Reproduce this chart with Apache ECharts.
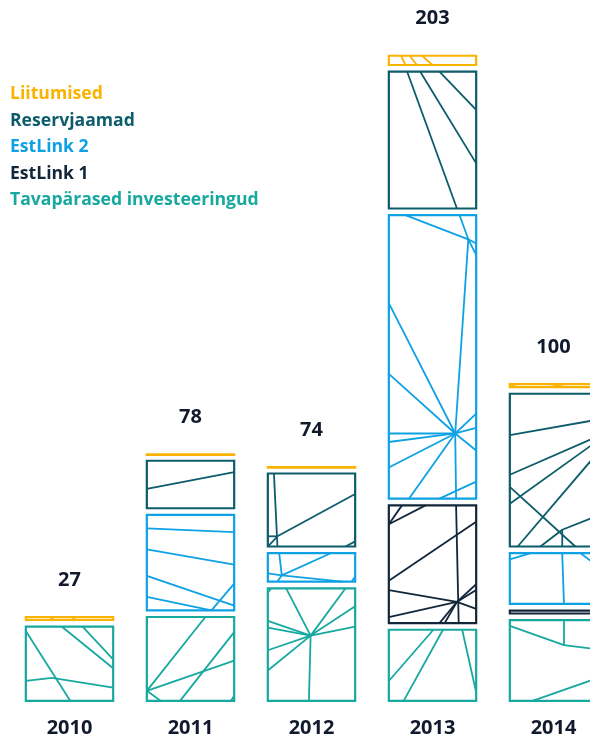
<!DOCTYPE html>
<html>
<head>
<meta charset="utf-8">
<script src="https://cdn.jsdelivr.net/npm/echarts@6/dist/echarts.min.js"></script>
<style>
  html, body { margin: 0; padding: 0; background: #ffffff; }
  #chart { width: 590px; height: 739px; }
</style>
</head>
<body>
<div id="chart"></div>
<script>
// Investments by year, stacked bottom to top
const years = ['2010', '2011', '2012', '2013', '2014'];
const tavaparased = [24, 27, 36, 23, 26];
const estlink1 = [0, 0, 0, 39, 3];
const estlink2 = [0, 32, 11, 91, 18];
const reservjaamad = [0, 17, 25, 45, 50];
const liitumised = [3, 2, 2, 5, 3];

const layers = [
  { name: 'Tavapärased investeeringud', data: tavaparased, color: '#17a99f' },
  { name: 'EstLink 1', data: estlink1, color: '#13273a' },
  { name: 'EstLink 2', data: estlink2, color: '#0ea1e4' },
  { name: 'Reservjaamad', data: reservjaamad, color: '#0c5c6b' },
  { name: 'Liitumised', data: liitumised, color: '#fab300' }
];

const totals = years.map((_, i) => layers.reduce((s, l) => s + l.data[i], 0));

const FONT = '"Open Sans", sans-serif';
const TEXT_DARK = '#111a2c';

// Decorative facet lines inside each box, as fractions of the box (x right, y down)
function fan(hx, hy, pts) {
  return pts.map(p => [hx, hy, p[0], p[1]]);
}
const decor = [
  // Tavapärased investeeringud
  [
    [[0, 0.06, 0.51, 1], [0, 0.73, 0.3, 0.69], [0.3, 0.69, 1, 0.82], [0.41, 0, 1, 0.56], [0.65, 0, 1, 0.44]],
    [[0, 0.88, 1, 0.52], [0, 0.88, 0.67, 0], [0.38, 1, 1, 0.18], [0, 0.88, 0.16, 1], [0.96, 1, 1, 0.94]],
    fan(0.49, 0.42, [[0, 0.29], [0, 0.35], [0, 0.55], [0, 0.73], [0.21, 0], [0.89, 0], [1, 0.16], [1, 0.34], [0.47, 1]])
      .concat([[0, 0.04, 0.04, 0]]),
    [[0, 0.72, 0.51, 0], [0.17, 1, 0.62, 0], [0.84, 0, 1, 0.88]],
    [[0, 0.07, 0.62, 0.31], [0.62, 0, 0.62, 0.31], [0.62, 0.31, 1, 0.36], [0.26, 1, 1, 0.72]]
  ],
  // EstLink 1
  [
    [], [], [],
    [[0, 0.16, 0.42, 0], [0, 0.16, 0.15, 0], [0, 0.64, 1, 0.14], [0.77, 0, 0.8, 1]]
      .concat(fan(0.78, 0.82, [[0, 0.72], [0, 0.95], [1, 0.67], [1, 0.72], [1, 0.88], [0.58, 1], [0.64, 1]])),
    []
  ],
  // EstLink 2
  [
    [],
    [[0, 0.14, 1, 0.18], [0, 0.36, 1, 0.52], [0, 0.64, 1, 0.95], [0, 0.86, 0.74, 1], [0.74, 1, 1, 0.72]],
    [[0.13, 0, 0.16, 0.78], [0, 0.71, 0.16, 0.78], [0.16, 0.78, 0.72, 0], [0.16, 0.78, 0.85, 1], [0.11, 1, 0.16, 0.78], [0.96, 1, 1, 0.82]],
    fan(0.91, 0.085, [[0.19, 0], [0.81, 0], [1, 0.1], [1, 0.14], [0.76, 0.77]])
      .concat(fan(0.76, 0.77, [[0, 0.31], [0, 0.56], [0, 0.77], [0, 0.8], [0, 0.89], [0.23, 1], [1, 0.7], [1, 0.75], [1, 0.83], [0.77, 1]]))
      .concat([[0.58, 1, 1, 0.94]]),
    [[0, 0.12, 0.24, 0], [0.6, 0, 0.62, 1], [0.81, 0, 1, 0.25]]
  ],
  // Reservjaamad
  [
    [],
    [[0, 0.59, 1, 0.24]],
    [[0.07, 0, 0.11, 1], [0, 0.86, 0.11, 0.86], [0, 1, 0.11, 0.86], [0.11, 0.86, 1, 0.28], [0.89, 1, 1, 0.93]],
    [[0.21, 0, 0.78, 1], [0.36, 0, 1, 0.67], [0.58, 0, 1, 0.28]],
    [[0, 0.27, 1, 0.17], [0, 0.53, 1, 0.28], [0, 0.72, 1, 0.31], [0, 0.61, 0.75, 1], [0.09, 1, 1, 0.39],
     [0.35, 1, 0.6, 0.89], [0.6, 0.89, 1, 0.8], [0.6, 0.89, 0.6, 1]]
  ],
  // Liitumised
  [
    [[0.27, 0, 0.32, 1], [0.52, 0, 0.57, 1]],
    [], [],
    [[0.14, 0, 0.19, 1], [0.24, 0, 0.32, 1], [0.38, 0, 0.5, 1]],
    [[0, 0.9, 0.07, 0.1], [0.46, 0, 0.65, 1]]
  ]
];

const GAP = 4.5;        // white space between stacked boxes
const BAR_RATIO = 0.74; // box width relative to category band
const EDGE = 2.2;       // box outline width

function layerRenderer(li) {
  const color = layers[li].color;
  return function (params, api) {
    const i = api.value(0);
    const lo = api.value(1);
    const hi = api.value(2);
    if (hi <= lo) return null;
    const pBot = api.coord([i, lo]);
    const pTop = api.coord([i, hi]);
    const bw = api.size([1, 0])[0] * BAR_RATIO;
    const gap = lo > 0 ? GAP : 0;
    const half = EDGE / 2;
    const x = pBot[0] - bw / 2 + half;
    const w = bw - EDGE;
    const y = pTop[1] + half;
    const h = Math.max(pBot[1] - gap - half - y, 0.5);
    const children = (decor[li][i] || []).map(s => ({
      type: 'line',
      shape: { x1: x + s[0] * w, y1: y + s[1] * h, x2: x + s[2] * w, y2: y + s[3] * h },
      style: { stroke: color, lineWidth: 1.8 }
    }));
    children.push({
      type: 'rect',
      shape: { x: x, y: y, width: w, height: h },
      style: { fill: 'none', stroke: color, lineWidth: EDGE }
    });
    return { type: 'group', children: children };
  };
}

const series = layers.map((l, li) => {
  const data = years.map((_, i) => {
    let base = 0;
    for (let k = 0; k < li; k++) base += layers[k].data[i];
    return [i, base, base + l.data[i]];
  });
  return {
    type: 'custom',
    name: l.name,
    color: l.color,
    clip: false,
    renderItem: layerRenderer(li),
    encode: { x: 0, y: [1, 2] },
    data: data
  };
});

// Totals above each column
series.push({
  type: 'custom',
  name: 'total',
  renderItem: function (params, api) {
    const p = api.coord([api.value(0), api.value(1)]);
    return {
      type: 'text',
      style: {
        x: p[0], y: p[1] - 36,
        text: String(api.value(1)),
        textAlign: 'center', textVerticalAlign: 'middle',
        font: 'bold 20px ' + FONT, fill: TEXT_DARK
      }
    };
  },
  encode: { x: 0, y: 1 },
  data: totals.map((t, i) => [i, t])
});

const chart = echarts.init(document.getElementById('chart'), null, { renderer: 'canvas' });
chart.setOption({
  animation: false,
  backgroundColor: '#ffffff',
  grid: { left: 9, right: -24, top: 10, bottom: 37, outerBoundsMode: 'none' },
  xAxis: {
    type: 'category',
    data: years,
    axisLine: { show: false },
    axisTick: { show: false },
    axisLabel: { margin: 16, fontSize: 20, fontWeight: 'bold', fontFamily: FONT, color: TEXT_DARK }
  },
  yAxis: { type: 'value', min: 0, max: 217, show: false, splitLine: { show: false } },
  legend: {
    orient: 'vertical',
    left: 0,
    top: 79,
    itemWidth: 0,
    itemHeight: 0,
    itemGap: 6.6,
    selectedMode: false,
    textStyle: { fontSize: 17.6, fontWeight: 'bold', fontFamily: FONT, lineHeight: 20 },
    data: layers.slice().reverse().map(l => ({ name: l.name, textStyle: { color: l.color } }))
  },
  series: series
});
</script>
</body>
</html>
